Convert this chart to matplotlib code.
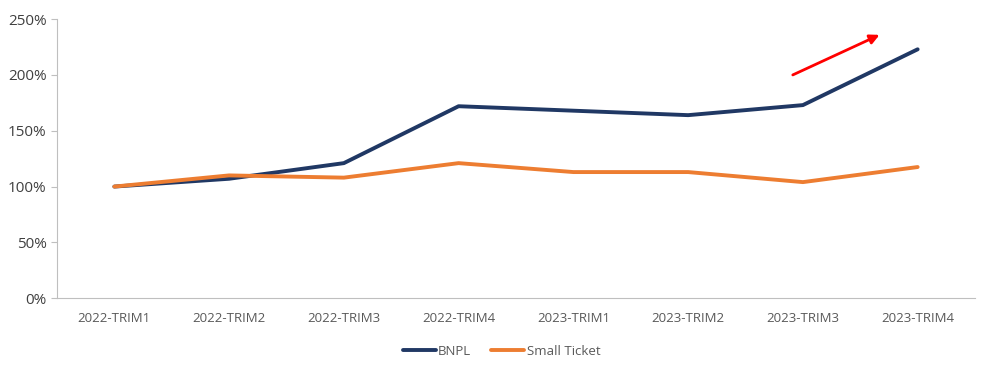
import matplotlib.pyplot as plt
from matplotlib.ticker import PercentFormatter

# categories and series (index base 100%)
quarters = ["2022-TRIM1", "2022-TRIM2", "2022-TRIM3", "2022-TRIM4",
            "2023-TRIM1", "2023-TRIM2", "2023-TRIM3", "2023-TRIM4"]
bnpl = [100, 107, 121, 172, 168, 164, 173, 223]
small_ticket = [100, 110, 108, 121, 113, 113, 104, 117.5]

plt.rcParams['font.family'] = ['Open Sans', 'DejaVu Sans']

fig = plt.figure(figsize=(9.99, 3.76), dpi=100)
ax = fig.add_axes([0.057, 0.207, 0.919, 0.742])

x = range(len(quarters))
ax.plot(x, bnpl, color='#203864', linewidth=2.8, label="BNPL", solid_capstyle='round')
ax.plot(x, small_ticket, color='#ED7D31', linewidth=2.8, label="Small Ticket", solid_capstyle='round')

# red trend arrow
ax.annotate("", xy=(6.69, 237), xytext=(5.89, 199),
            arrowprops=dict(arrowstyle='-|>', color='red', lw=2, mutation_scale=14))

ax.set_xlim(-0.5, len(quarters) - 0.5)
ax.set_ylim(0, 250)
ax.set_yticks([0, 50, 100, 150, 200, 250])
ax.yaxis.set_major_formatter(PercentFormatter(decimals=0))
ax.set_xticks(list(x))
ax.set_xticklabels(quarters)

for side in ['top', 'right']:
    ax.spines[side].set_visible(False)
for side in ['left', 'bottom']:
    ax.spines[side].set_color('#BFBFBF')
ax.tick_params(axis='y', labelcolor='#404040', labelsize=11, length=4, color='#BFBFBF')
ax.tick_params(axis='x', colors='#595959', labelsize=9.5, length=0, pad=10)

fig.legend(loc='center', bbox_to_anchor=(0.502, 0.066), ncol=2, frameon=False,
           fontsize=9.5, labelcolor='#595959', handlelength=2.5, handletextpad=0.2,
           columnspacing=1.5)

fig.savefig("out.png", dpi=100)
